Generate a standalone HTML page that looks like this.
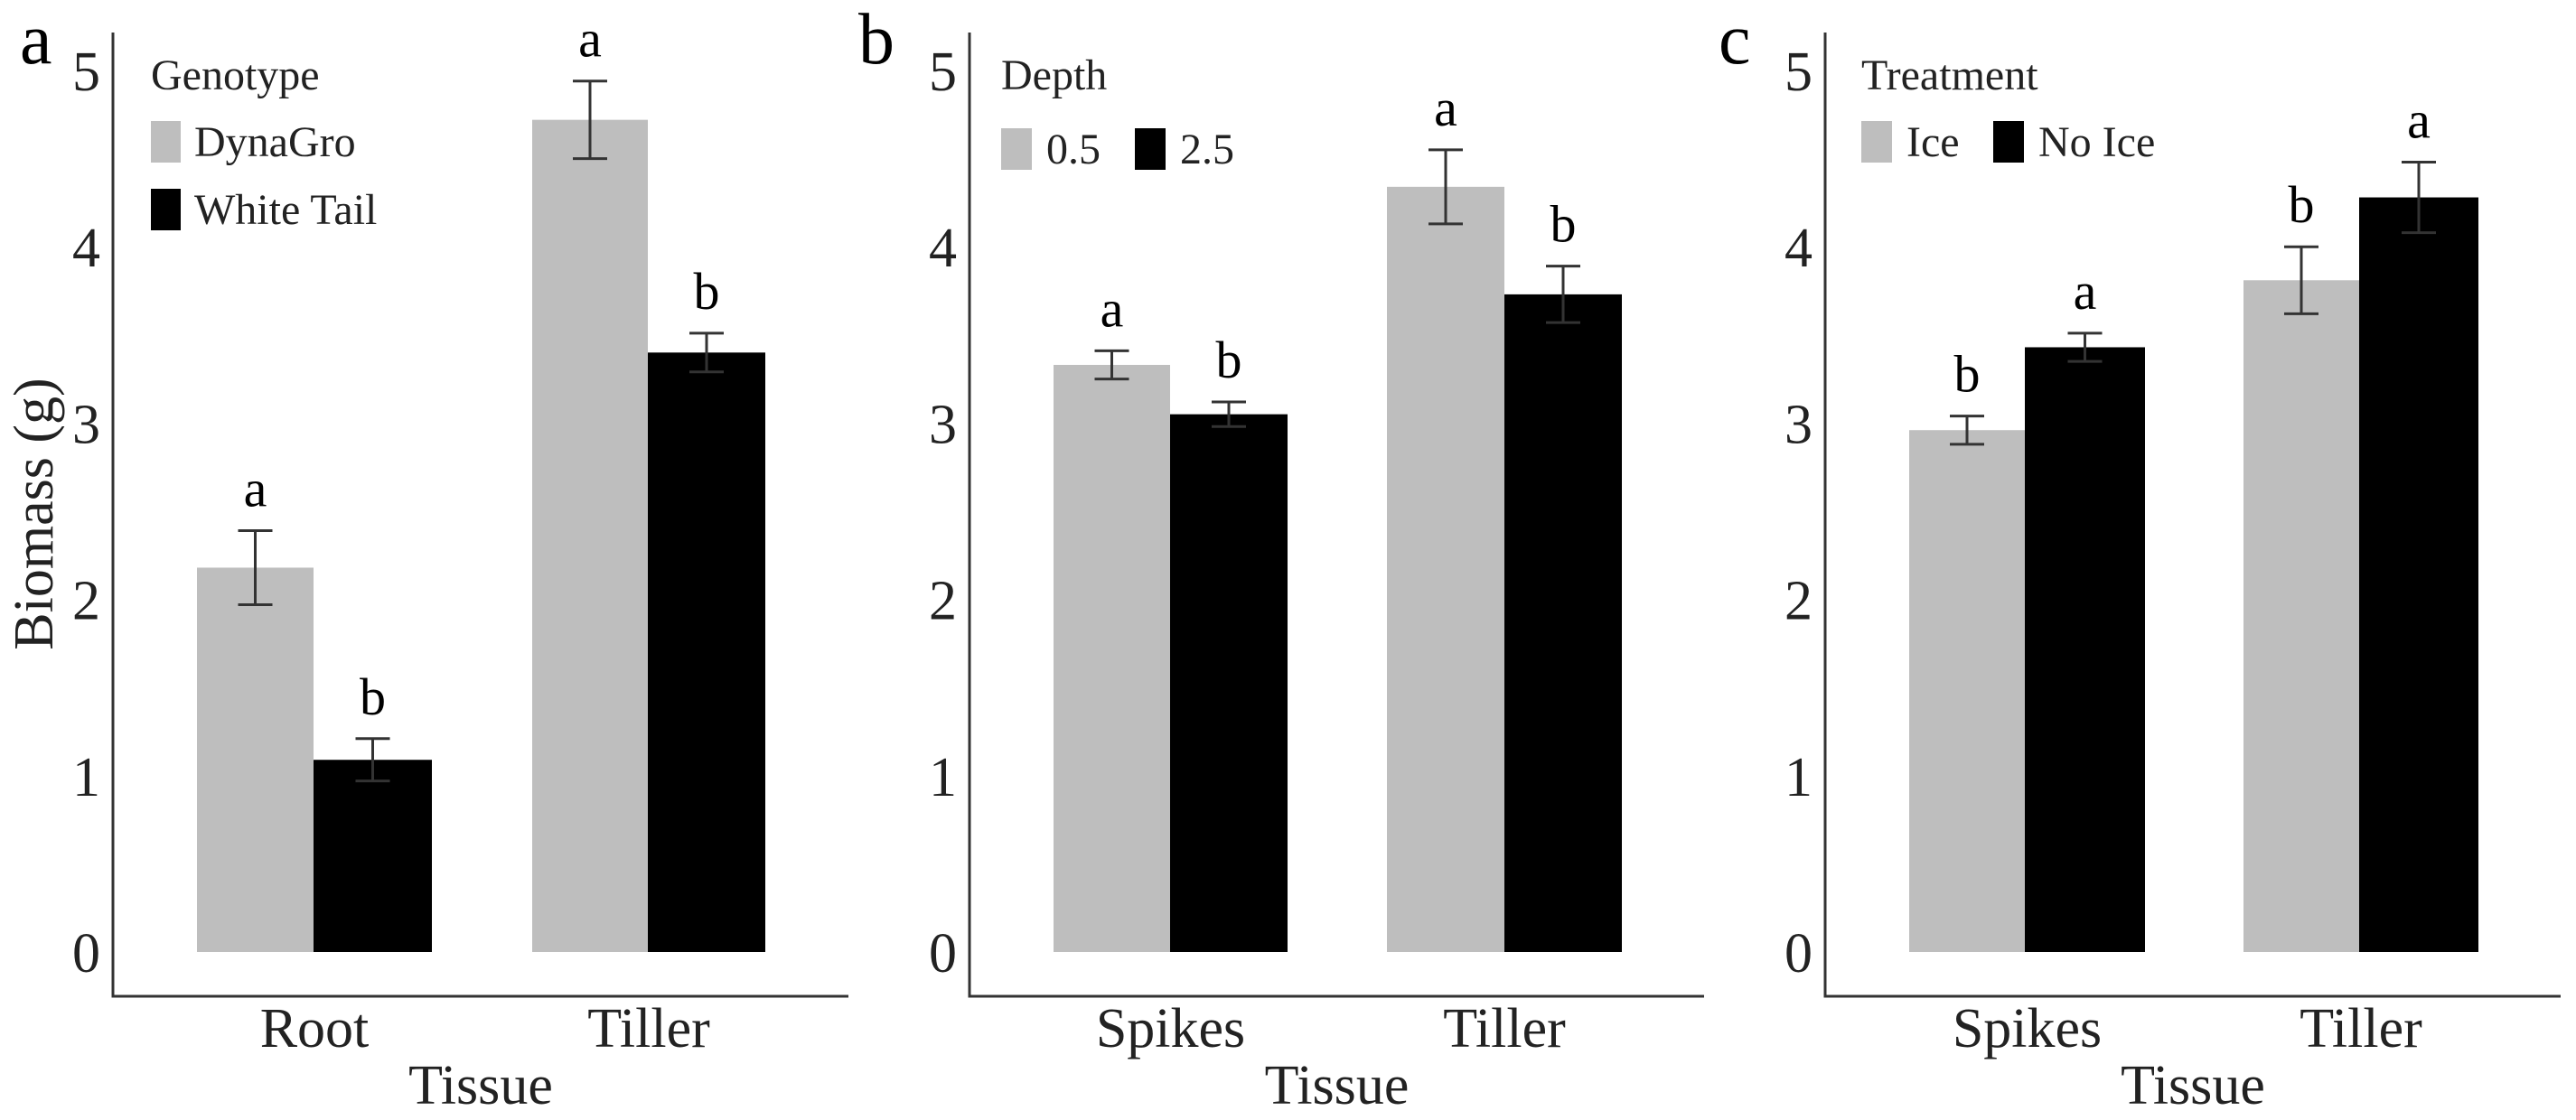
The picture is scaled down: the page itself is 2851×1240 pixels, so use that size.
<!DOCTYPE html>
<html><head><meta charset="utf-8"><style>
html,body{margin:0;padding:0;background:#fff;}
svg{display:block;font-family:"Liberation Serif",serif;}
</style></head><body>
<svg id="fig" width="2851" height="1240" viewBox="0 0 2851 1240" xmlns="http://www.w3.org/2000/svg"></svg>
<script>
const panelLetters = ["a","b","c"];
const legendTitles = ["Genotype","Depth","Treatment"];
const seriesNames = [["DynaGro","White Tail"],["0.5","2.5"],["Ice","No Ice"]];
const categories = [["Root","Tiller"],["Spikes","Tiller"],["Spikes","Tiller"]];
const grayValues = [[2.18,4.72],[3.33,4.34],[2.96,3.81]];
const blackValues = [[1.09,3.40],[3.05,3.73],[3.43,4.28]];
const grayErr = [[0.21,0.22],[0.08,0.21],[0.08,0.19]];
const blackErr = [[0.12,0.11],[0.07,0.16],[0.08,0.20]];
const grayLetters = [["a","a"],["a","a"],["b","b"]];
const blackLetters = [["b","b"],["b","b"],["a","a"]];
const yTicks = [0,1,2,3,4,5];

const NS = "http://www.w3.org/2000/svg";
const svg = document.getElementById("fig");
function mk(tag, attrs, parent, txt){
  const e = document.createElementNS(NS, tag);
  for (const k in attrs) e.setAttribute(k, attrs[k]);
  if (txt !== undefined) e.textContent = txt;
  (parent||svg).appendChild(e);
  return e;
}
const base = 1054, unit = 195.2;
function yScale(v){ return base - unit*v; }
const panels = [
  {ax:125, axEnd:939, bars:[[218,347,478],[589,717,847]], legX:167, letX:22, legMode:"vertical"},
  {ax:1073, axEnd:1886, bars:[[1166,1295,1425],[1535,1665,1795]], legX:1108, letX:950, legMode:"horizontal"},
  {ax:2020, axEnd:2834, bars:[[2113,2241,2374],[2483,2611,2743]], legX:2060, letX:1902, legMode:"horizontal"}
];
panels.forEach((p, pi) => {
  const g = mk("g", {});
  
  
  const pl = mk("text", {x:p.letX, y:70, "font-size":80, fill:"#000"}, g, panelLetters[pi]);
  
  
  // axes
  const ya = mk("line", {x1:p.ax, y1:36, x2:p.ax, y2:1103, stroke:"#333", "stroke-width":3}, g);
  
  
  const xa = mk("line", {x1:p.ax-1.5, y1:1103, x2:p.axEnd, y2:1103, stroke:"#333", "stroke-width":3}, g);
  
  
  yTicks.forEach(t => {
    const tl = mk("text", {x:p.ax-14, y:yScale(t)+22, "font-size":62, "text-anchor":"end", fill:"#222"}, g, String(t));
    
    
  });
  // bars
  categories[pi].forEach((cat, ci) => {
    const [x0, xm, x1] = p.bars[ci];
    const gv = grayValues[pi][ci], bv = blackValues[pi][ci];
    const ge = grayErr[pi][ci], be = blackErr[pi][ci];
    const r1 = mk("rect", {x:x0, y:yScale(gv), width:xm-x0, height:base-yScale(gv), fill:"#bebebe"}, g);
    
    
    const r2 = mk("rect", {x:xm, y:yScale(bv), width:x1-xm, height:base-yScale(bv), fill:"#000"}, g);
    
    
    [[ (x0+xm)/2, gv, ge, grayLetters[pi][ci]], [(xm+x1)/2, bv, be, blackLetters[pi][ci]]].forEach(([cx, v, e, L]) => {
      const top = yScale(v+e), bot = yScale(v-e);
      const eb = mk("path", {d:`M${cx-19},${top}H${cx+19}M${cx},${top}V${bot}M${cx-19},${bot}H${cx+19}`, stroke:"#333", "stroke-width":3, fill:"none"}, g);
      
      
      const lt = mk("text", {x:cx, y:top-27, "font-size":58, "text-anchor":"middle", fill:"#000"}, g, L);
      
      
    });
    const cl = mk("text", {x:(x0+x1)/2, y:1159, "font-size":62, "text-anchor":"middle", fill:"#222"}, g, cat);
    
    
  });
  const xt = mk("text", {x:(p.ax+p.axEnd)/2, y:1222, "font-size":62, "text-anchor":"middle", fill:"#222"}, g, "Tissue");
  
  
  // legend
  const lg = mk("g", {}, g);
  
  
  const ltt = mk("text", {x:p.legX, y:99, "font-size":48, fill:"#222"}, lg, legendTitles[pi]);
  
  
  if (p.legMode === "vertical") {
    [[134,"#bebebe"],[209,"#000"]].forEach(([ky, col], si) => {
      const k = mk("rect", {x:p.legX, y:ky, width:33, height:46, fill:col}, lg);
      
      
      const t = mk("text", {x:p.legX+48, y:ky+39, "font-size":48, fill:"#222"}, lg, seriesNames[pi][si]);
      
      
    });
  } else {
    const ky = pi===1 ? 142 : 134;
    const offs = pi===1 ? [0,148] : [0,146];
    [["#bebebe",0],["#000",1]].forEach(([col, si]) => {
      const kx = p.legX + offs[si];
      const k = mk("rect", {x:kx, y:ky, width:34, height:46, fill:col}, lg);
      
      
      const t = mk("text", {x:kx+50, y:ky+39, "font-size":48, fill:"#222"}, lg, seriesNames[pi][si]);
      
      
    });
  }
});
const yt = mk("text", {x:0, y:0, "font-size":62, "text-anchor":"middle", fill:"#222", transform:"translate(58,569) rotate(-90)"}, svg, "Biomass (g)");


</script>
</body></html>
